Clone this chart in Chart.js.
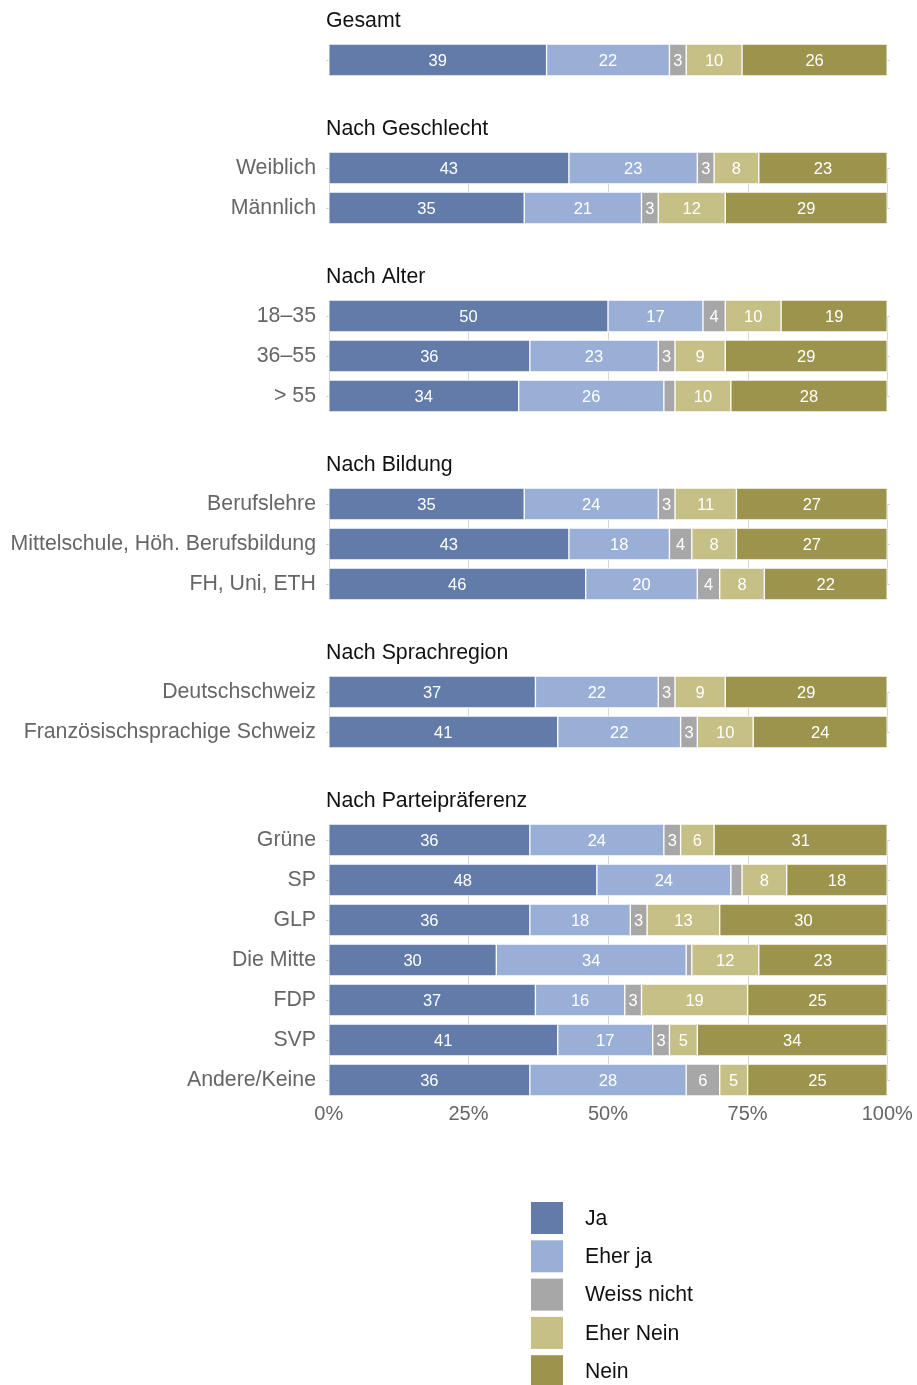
<!DOCTYPE html>
<html>
<head>
<meta charset="utf-8">
<script src="https://cdn.jsdelivr.net/npm/chart.js@4/dist/chart.umd.min.js"></script>
<style>
  body { margin: 0; background: #fff; }
  #wrap { position: relative; width: 917px; height: 1385px; }
</style>
</head>
<body>
<div id="wrap"><canvas id="myChart"></canvas></div>
<script>
// row labels (Gesamt has none), group titles and how many rows each group has
var categories = ['', 'Weiblich', 'Männlich', '18–35', '36–55', '> 55',
    'Berufslehre', 'Mittelschule, Höh. Berufsbildung', 'FH, Uni, ETH',
    'Deutschschweiz', 'Französischsprachige Schweiz',
    'Grüne', 'SP', 'GLP', 'Die Mitte', 'FDP', 'SVP', 'Andere/Keine'];
var groups = ['Gesamt', 'Nach Geschlecht', 'Nach Alter', 'Nach Bildung', 'Nach Sprachregion', 'Nach Parteipräferenz'];
var groupSizes = [1, 2, 3, 3, 2, 7];

var ja         = [39, 43, 35, 50, 36, 34, 35, 43, 46, 37, 41, 36, 48, 36, 30, 37, 41, 36];
var eherJa     = [22, 23, 21, 17, 23, 26, 24, 18, 20, 22, 22, 24, 24, 18, 34, 16, 17, 28];
var weissNicht = [3, 3, 3, 4, 3, 2, 3, 4, 4, 3, 3, 3, 2, 3, 1, 3, 3, 6];
var eherNein   = [10, 8, 12, 10, 9, 10, 11, 8, 8, 9, 10, 6, 8, 13, 12, 19, 5, 5];
var nein       = [26, 23, 29, 19, 29, 28, 27, 27, 22, 29, 24, 31, 18, 30, 23, 25, 34, 25];

var seriesNames = ['Ja', 'Eher ja', 'Weiss nicht', 'Eher Nein', 'Nein'];
var tickValues = [0, 25, 50, 75, 100];

var colors = ['#627ba8', '#9aafd6', '#a7a7a7', '#c6c086', '#9c944c'];
var FONT = '"Liberation Sans", Arial, sans-serif';
var GROUP_GAP = 2.7; // distance (in rows) between last row of a group and first row of next

// row positions on the linear y axis
var rowPos = [];
var groupStart = [];
var groupEnd = [];
var p = 0;
groupSizes.forEach(function (n, g) {
    if (g > 0) p += GROUP_GAP - 1;
    groupStart.push(p);
    for (var i = 0; i < n; i++) {
        rowPos.push(p);
        p++;
    }
    groupEnd.push(p - 1);
});

function toPoints(values) {
    return values.map(function (v, i) { return { x: v, y: rowPos[i] }; });
}

var allSeries = [ja, eherJa, weissNicht, eherNein, nein];

var groupPlugin = {
    id: 'groups',
    beforeDatasetsDraw: function (chart) {
        var ctx = chart.ctx, xs = chart.scales.x, ys = chart.scales.y;
        ctx.save();
        ctx.strokeStyle = '#d6d6d6';
        ctx.lineWidth = 1;
        groupSizes.forEach(function (n, g) {
            if (n < 2) return;
            var y0 = ys.getPixelForValue(groupStart[g]);
            var y1 = ys.getPixelForValue(groupEnd[g]);
            tickValues.forEach(function (t) {
                var x = Math.round(xs.getPixelForValue(t)) + 0.5;
                ctx.beginPath();
                ctx.moveTo(x, y0);
                ctx.lineTo(x, y1);
                ctx.stroke();
            });
        });
        ctx.restore();
    },
    afterDatasetsDraw: function (chart) {
        var ctx = chart.ctx, ys = chart.scales.y;
        ctx.save();
        // value labels
        ctx.fillStyle = '#fff';
        ctx.font = '16.5px ' + FONT;
        ctx.textAlign = 'center';
        ctx.textBaseline = 'middle';
        chart.data.datasets.forEach(function (ds, di) {
            chart.getDatasetMeta(di).data.forEach(function (bar, i) {
                var v = allSeries[di][i];
                if (v < 3) return;
                var c = bar.getCenterPoint();
                ctx.fillText(v, c.x, c.y + 1);
            });
        });
        // group titles
        ctx.fillStyle = '#111';
        ctx.font = '21.3px ' + FONT;
        ctx.textAlign = 'left';
        groups.forEach(function (t, g) {
            ctx.fillText(t, chart.chartArea.left, ys.getPixelForValue(groupStart[g] - 0.975));
        });
        ctx.restore();
    },
    afterDraw: function (chart) {
        // vertical legend under the chart
        var ctx = chart.ctx;
        ctx.save();
        ctx.font = '21.2px ' + FONT;
        ctx.textBaseline = 'middle';
        ctx.textAlign = 'left';
        chart.data.datasets.forEach(function (ds, i) {
            var top = 1202 + i * 38.3;
            ctx.fillStyle = ds.backgroundColor;
            ctx.fillRect(531, top, 32, 32);
            ctx.fillStyle = '#111';
            ctx.fillText(ds.label, 585, top + 17);
        });
        ctx.restore();
    }
};

var ctx = document.getElementById('myChart');
var myChart = new Chart(ctx, {
    type: 'bar',
    data: {
        datasets: allSeries.map(function (vals, i) {
            return {
                label: seriesNames[i],
                data: toPoints(vals),
                backgroundColor: colors[i],
                borderColor: '#ffffff',
                borderWidth: 1,
                borderSkipped: false,
                barThickness: 32
            };
        })
    },
    options: {
        indexAxis: 'y',
        responsive: true,
        maintainAspectRatio: false,
        animation: false,
        layout: { padding: { left: 0, right: 27, top: 0, bottom: 247 } },
        plugins: {
            legend: { display: false },
            tooltip: { enabled: false }
        },
        scales: {
            x: {
                type: 'linear',
                stacked: true,
                min: -0.5,
                max: 100.5,
                afterBuildTicks: function (axis) {
                    axis.ticks = tickValues.map(function (v) { return { value: v }; });
                },
                afterFit: function (axis) {
                    axis.height = 40;
                    axis.paddingLeft = 0;
                    axis.paddingRight = 0;
                },
                grid: { display: false },
                border: { display: false },
                ticks: {
                    color: '#666',
                    font: { family: FONT, size: 20 },
                    padding: -4,
                    maxRotation: 0,
                    callback: function (v) { return v + '%'; }
                }
            },
            y: {
                type: 'linear',
                stacked: true,
                reverse: true,
                offset: false,
                min: -1.5,
                max: rowPos[rowPos.length - 1] + 0.45,
                afterBuildTicks: function (axis) {
                    axis.ticks = rowPos.map(function (v) { return { value: v }; });
                },
                afterFit: function (axis) {
                    axis.width = 326;
                    axis.paddingTop = 0;
                    axis.paddingBottom = 0;
                },
                grid: { color: '#d6d6d6', drawTicks: false, offset: false },
                border: { display: false },
                ticks: {
                    autoSkip: false,
                    color: '#666',
                    font: { family: FONT, size: 21.3 },
                    padding: 10,
                    callback: function (v, i) { return categories[i]; }
                }
            }
        }
    },
    plugins: [groupPlugin]
});
</script>
</body>
</html>
